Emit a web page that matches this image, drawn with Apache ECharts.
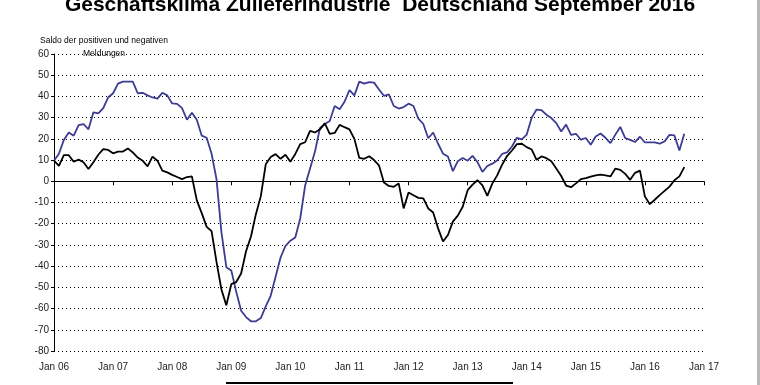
<!DOCTYPE html>
<html>
<head>
<meta charset="utf-8">
<script src="https://cdn.jsdelivr.net/npm/echarts@6/dist/echarts.min.js"></script>
<style>html,body{margin:0;padding:0;background:#fff;}#c{width:760px;height:385px;}</style>
</head>
<body>
<div id="c"></div>
<script>
// Monthly values, Jan 2006 .. Sep 2016
var tickLabels = ['Jan 06','Jan 07','Jan 08','Jan 09','Jan 10','Jan 11','Jan 12','Jan 13','Jan 14','Jan 15','Jan 16','Jan 17'];
var yTicks = [-80,-70,-60,-50,-40,-30,-20,-10,0,10,20,30,40,50,60];
var blueSeries = [
  9.7,13,19.5,23,21.5,26.5,27,24.5,32.5,32,34.5,39.5,
  41.5,46,47,47,47,41.5,41.7,40.5,39.5,39,41.7,40.5,
  36.7,36.5,34.5,29,32.3,29,21.5,20.5,13,1,-24,-40.5,
  -42,-52,-61,-64,-66,-66,-64.5,-59,-54,-45,-36,-30.5,
  -28,-26.5,-17.5,-2,6,14,25,27,28.4,35.5,34,37.5,
  43,40.5,47,46,46.7,46.5,43.3,40.3,41,35.5,34.3,35,
  36.6,35.5,29.5,27,20.3,23,17.7,13,11.7,4.8,9.5,11,
  9.7,12,9,4.4,7.2,8.3,9.8,12.9,13.6,16.4,20.5,19.8,
  22,30,33.8,33.5,31.4,29.8,27.4,23.5,26.7,21.9,22.4,19.6,
  20.4,17.2,21.1,22.5,20.5,18,22,25.6,20.4,19.5,18.5,21,
  18.3,18.3,18.3,17.7,18.8,21.9,21.6,14.5,22.4
];
var blackSeries = [
  9.7,7.3,12.3,12.3,9.2,10.2,9,5.8,9,12.5,15.2,14.8,
  13.2,14,14,15.5,13.6,11.2,9.7,7,11.6,9.7,5,4.2,
  3,2,1,2,2.3,-9,-15,-21.5,-23.5,-38,-51,-58.5,
  -48.5,-47.5,-43.5,-33,-26,-15.5,-7,8,11.4,12.8,10.6,12.5,
  9.2,12.9,17.5,18.4,23.8,23,24.5,27.3,22.3,22.8,26.6,25.5,
  24.5,20,11,10.6,11.8,10,7.5,-0.6,-2.2,-2.6,-1,-12.8,
  -5.3,-6.6,-7.8,-8.1,-12.8,-14.7,-22.2,-28.4,-25.3,-19,-16.2,-12,
  -4.2,-1.6,0.5,-1.9,-6.9,-1.1,2.8,7.8,11.9,14.5,17.5,17.7,
  16.1,15,10.1,11.7,10.9,9.4,6,2.5,-2,-2.8,-1,1,
  1.5,2.2,2.8,3.1,2.8,2.3,6,5.4,3.5,0.7,4,5,
  -7.2,-10.8,-8.7,-6.5,-4.5,-2.5,0.5,2.3,6.7
];

function pairs(arr){ return arr.map(function(v,i){ return [i, v]; }); }

var chart = echarts.init(document.getElementById('c'), null, {renderer:'canvas'});
var font = 'Liberation Sans, Arial, sans-serif';
chart.setOption({
  animation:false,
  backgroundColor:'#fff',
  title:{
    text:'Geschäftsklima Zulieferindustrie  Deutschland September 2016',
    left:'center', top:-10,
    textStyle:{fontFamily:font, fontSize:21, fontWeight:'bold', color:'#000'}
  },
  grid:{left:54, right:56, top:54, bottom:34, containLabel:false},
  xAxis:[{
    type:'value', min:0, max:132, interval:12, position:'bottom',
    axisLine:{show:true, onZero:true, lineStyle:{color:'#000', width:1}},
    axisTick:{show:true, length:4, lineStyle:{color:'#000'}},
    axisLabel:{show:false},
    splitLine:{show:false}
  },{
    type:'value', min:0, max:132, interval:12, position:'bottom',
    axisLine:{show:false, onZero:false},
    axisTick:{show:false},
    axisLabel:{show:true, margin:11, color:'#222', fontFamily:font, fontSize:10,
      formatter:function(v){ return tickLabels[Math.round(v/12)]; }},
    splitLine:{show:false}
  }],
  yAxis:{
    type:'value', min:yTicks[0], max:yTicks[yTicks.length-1], interval:10,
    axisLine:{show:true, lineStyle:{color:'#000', width:1}},
    axisTick:{show:true, length:3, lineStyle:{color:'#000'}},
    axisLabel:{margin:5, color:'#222', fontFamily:font, fontSize:10},
    splitLine:{show:true, lineStyle:{color:'#000', type:[1,3], width:1}}
  },
  graphic:[
    {type:'text', left:40, top:36, style:{text:'Saldo der positiven und negativen', fontFamily:font, fontSize:8.5, fill:'#000'}},
    {type:'text', left:83, top:49, style:{text:'Meldungen', fontFamily:font, fontSize:8.5, fill:'#000'}},
    {type:'rect', shape:{x:226, y:382, width:287, height:2}, style:{fill:'#000'}},
    {type:'rect', shape:{x:757, y:0, width:3, height:385}, style:{fill:'#b8b8b8'}}
  ],
  series:[{
    type:'line', xAxisIndex:0, data:pairs(blueSeries), showSymbol:false,
    lineStyle:{color:'#3c3c92', width:1.8}, z:3
  },{
    type:'line', xAxisIndex:0, data:pairs(blackSeries), showSymbol:false,
    lineStyle:{color:'#000', width:1.8}, z:4
  }]
});
</script>
</body>
</html>
